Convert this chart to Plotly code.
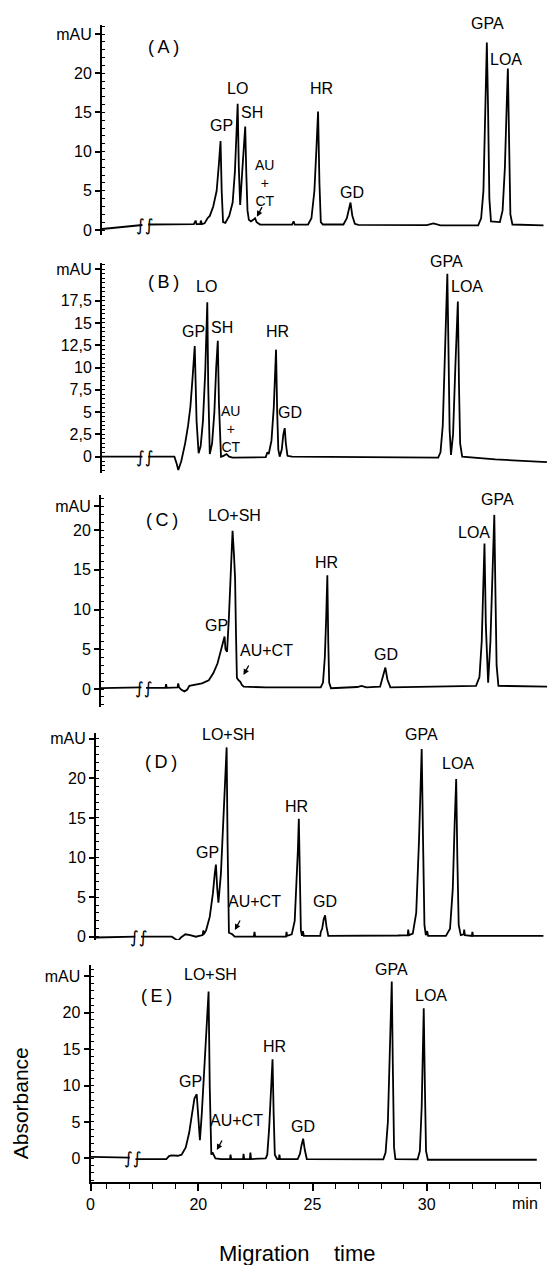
import plotly.graph_objects as go

# ---------------- data ----------------
# migration time (min) and absorbance (mAU); None = axis break gap
a_time = [15.28, 16.2, 17.05, None, 17.3, 19.3, 19.38, 19.42, 19.58, 19.61, 19.65, 19.77, 19.9, 20.0, 20.15, 20.3, 20.4, 20.47,
          20.52, 20.58, 20.68, 20.85, 21.0, 21.1, 21.17, 21.22, 21.27, 21.33, 21.42, 21.5, 21.55, 21.6, 21.65, 21.71, 21.8,
          21.9, 21.98, 22.05, 22.2, 23.6, 23.67, 23.72, 24.3, 24.45, 24.58, 24.67, 24.74, 24.8, 24.86, 24.95, 25.85, 26.0,
          26.1, 26.16, 26.24, 26.35, 26.5, 29.5, 29.79, 30.1, 31.75, 31.88, 31.98, 32.05, 32.1, 32.13, 32.18, 32.24, 32.31,
          32.7, 32.82, 32.92, 33.0, 33.05, 33.1, 33.16, 33.25, 34.61]
a_abs = [0.13, 0.4, 0.64, None, 0.7, 0.75, 1.2, 0.75, 0.75, 1.2, 0.75, 0.85, 1.5, 1.8, 3.0, 5.0, 8.5, 11.35,
         5.0, 1.0, 0.9, 1.8, 3.5, 7.5, 12.5, 16.1, 8.0, 3.2, 7.5, 11.0, 13.2, 7.0, 2.5, 1.3, 1.1,
         1.3, 1.5, 1.0, 0.7, 0.68, 1.1, 0.68, 0.7, 1.5, 5.0, 10.5, 15.1, 6.0, 1.0, 0.7, 0.7, 1.5,
         3.0, 3.5, 1.8, 0.8, 0.65, 0.62, 0.85, 0.6, 0.6, 1.5, 5.0, 13.0, 20.0, 23.9, 16.0, 4.0, 1.1,
         1.0, 2.5, 8.0, 16.0, 20.6, 12.0, 2.0, 0.7, 0.6]

b_time = [15.28, 17.05, None, 17.3, 18.45, 18.55, 18.62, 18.75, 18.92, 19.05, 19.15, 19.25, 19.34, 19.42, 19.51, 19.6,
          19.7, 19.8, 19.86, 19.89, 19.93, 19.97, 20.0, 20.1, 20.2, 20.28, 20.35, 20.4, 20.45, 20.49, 20.6, 20.73, 20.85,
          21.0, 22.45, 22.52, 22.58, 22.7, 22.8, 22.86, 22.9, 22.95, 23.0, 23.06, 23.15, 23.22, 23.28, 23.33, 23.4, 23.6,
          30.0, 30.1, 30.2, 30.3, 30.37, 30.4, 30.45, 30.5, 30.56, 30.65, 30.75, 30.82, 30.86, 30.91, 30.96, 31.05,
          32.5, 34.76]
b_abs = [0.0, 0.0, None, 0.0, 0.0, -0.8, -1.5, -0.5, 1.5, 3.5, 5.6, 9.0, 12.4, 4.0, 0.4, 1.2,
         4.0, 9.5, 15.0, 17.3, 8.0, 1.5, 0.3, 1.5, 5.0, 10.0, 13.0, 6.0, 1.0, 0.0, 0.1, 0.3, 0.0,
         -0.1, -0.05, 0.5, 0.3, 1.8, 5.5, 9.5, 12.0, 5.0, 0.8, 0.0, 0.8, 2.5, 3.2, 1.5, 0.1, 0.0,
         -0.1, 0.5, 3.5, 12.0, 19.0, 20.5, 12.0, 3.0, 0.2, 2.5, 10.0, 16.0, 17.4, 8.0, 1.5, 0.0,
         -0.3, -0.6]

c_time = [15.28, 17.05, None, 17.25, 18.1, 18.13, 18.16, 18.63, 18.66, 18.7, 18.8, 18.93, 19.05, 19.15, 19.4, 19.7,
          20.0, 20.2, 20.38, 20.5, 20.6, 20.69, 20.73, 20.8, 20.88, 20.96, 21.04, 21.1, 21.15, 21.19, 21.23, 21.3,
          21.38, 21.45, 21.53, 22.5, 24.9, 25.0, 25.08, 25.14, 25.19, 25.23, 25.27, 25.35, 26.5, 26.69, 26.9, 27.5,
          27.62, 27.73, 27.82, 27.95, 31.7, 31.85, 31.95, 32.02, 32.07, 32.13, 32.23, 32.33, 32.42, 32.5, 32.55,
          32.6, 32.68, 34.81]
c_abs = [0.1, 0.2, None, 0.15, 0.15, 0.6, 0.15, 0.2, 0.7, 0.2, -0.1, -0.3, -0.1, 0.4, 0.5, 0.7,
         1.1, 2.0, 3.2, 4.5, 5.5, 6.6, 5.0, 4.7, 9.0, 15.0, 19.9, 17.0, 14.0, 7.0, 1.4, 1.1,
         0.9, 0.5, 0.3, 0.2, 0.2, 0.8, 4.0, 9.0, 14.3, 6.0, 0.8, 0.1, 0.25, 0.4, 0.2, 0.3,
         1.4, 2.7, 1.2, 0.2, 0.4, 1.5, 6.0, 13.0, 18.3, 8.0, 0.8, 6.0, 15.0, 21.9, 12.0,
         3.0, 0.4, 0.3]

d_time = [15.28, 17.0, None, 17.25, 18.6, 18.75, 18.88, 19.0, 19.19, 19.4, 19.65, 19.95, 19.98, 20.0, 20.1, 20.26,
          20.4, 20.48, 20.53, 20.59, 20.64, 20.75, 20.87, 20.95, 21.0, 21.04, 21.08, 21.1, 21.18, 21.25, 21.35,
          22.19, 22.22, 22.25, 23.6, 23.62, 23.65, 23.85, 23.98, 24.07, 24.12, 24.16, 24.2, 24.25, 24.3, 24.34,
          24.38, 25.1, 25.12, 25.18, 25.25, 25.31, 25.37, 25.45, 28.5, 28.93, 28.95, 28.98, 29.15, 29.3, 29.42,
          29.5, 29.54, 29.6, 29.66, 29.72, 29.78, 29.82, 30.6, 30.78, 30.9, 30.98, 31.05, 31.1, 31.16, 31.25,
          31.38, 31.4, 31.43, 31.74, 31.76, 31.79, 34.87]
d_abs = [-0.1, 0.0, None, 0.0, 0.0, -0.3, -0.5, -0.1, 0.3, 0.2, 0.0, 0.2, 0.8, 0.3, 0.8, 2.5,
         5.5, 8.0, 9.1, 6.0, 4.3, 8.0, 15.0, 21.0, 23.9, 12.0, 2.0, 0.5, 0.4, 0.3, 0.0,
         0.0, 0.6, 0.0, 0.0, 0.6, 0.1, 0.3, 2.0, 7.0, 11.0, 14.9, 6.0, 0.8, 0.1, 0.7,
         0.1, 0.1, 0.6, 1.0, 2.2, 2.7, 1.3, 0.1, 0.15, 0.2, 0.9, 0.2, 0.4, 3.0, 12.0,
         20.0, 23.7, 12.0, 1.5, 0.2, 0.7, 0.1, 0.1, 1.0, 6.0, 14.0, 19.9, 10.0, 1.5, 0.2,
         0.3, 0.9, 0.2, 0.1, 0.6, 0.1, 0.1]

e_time = [15.28, 17.0, None, 17.25, 18.6, 18.72, 18.82, 19.1, 19.27, 19.45, 19.6, 19.72, 19.83, 19.93, 20.0, 20.07,
          20.15, 20.27, 20.38, 20.45, 20.5, 20.55, 20.57, 20.62, 20.67, 20.75, 21.0, 21.39, 21.41, 21.44, 21.96,
          21.98, 22.01, 22.26, 22.28, 22.31, 22.95, 23.02, 23.1, 23.18, 23.25, 23.3, 23.35, 23.45, 23.53, 23.55,
          23.58, 24.35, 24.45, 24.52, 24.59, 24.66, 24.75, 28.1, 28.2, 28.3, 28.38, 28.44, 28.47, 28.52, 28.57,
          28.63, 29.6, 29.7, 29.78, 29.84, 29.87, 29.92, 29.97, 30.05, 34.82]
e_abs = [0.2, 0.1, None, -0.1, -0.1, 0.3, 0.4, 0.35, 0.5, 1.5, 3.5, 6.0, 8.2, 8.8, 6.0, 2.5,
         6.0, 13.0, 19.0, 22.9, 10.0, 1.5, 0.5, 0.8, 0.5, 0.0, -0.1, -0.1, 0.5, -0.1, -0.1,
         0.6, -0.1, -0.1, 0.8, -0.1, 0.0, 0.5, 4.0, 9.0, 13.6, 6.0, 0.5, -0.1, -0.1, 0.5,
         -0.1, -0.1, 0.6, 1.8, 2.7, 1.2, -0.1, -0.15, 0.8, 5.0, 14.0, 21.0, 24.3, 12.0, 1.5,
         -0.1, -0.15, 1.0, 7.0, 16.0, 20.6, 10.0, 1.0, -0.2, -0.2]

# peak labels: text, time, absorbance
a_lbl_text = ["GPA", "LOA", "LO", "SH", "GP", "HR", "AU<br>+<br>CT", "GD"]
a_lbl_time = [32.16, 32.96, 21.22, 21.86, 20.49, 24.89, 22.40, 26.24]
a_lbl_val = [26.3, 21.8, 18.1, 15.0, 13.3, 18.1, 6.0, 4.8]

b_lbl_text = ["GPA", "LOA", "LO", "SH", "GP", "HR", "GD", "AU<br>+<br>CT"]
b_lbl_time = [30.35, 31.27, 19.87, 20.53, 19.28, 22.95, 23.52, 20.91]
b_lbl_val = [21.9, 19.1, 19.1, 14.5, 14.0, 14.0, 4.9, 3.1]

c_lbl_text = ["LO+SH", "GPA", "LOA", "HR", "GP", "AU+CT", "GD"]
c_lbl_time = [21.11, 32.66, 31.62, 25.14, 20.35, 22.53, 27.74]
c_lbl_val = [21.8, 23.8, 19.7, 15.9, 8.0, 4.8, 4.3]

d_lbl_text = ["LO+SH", "GPA", "LOA", "HR", "GP", "AU+CT", "GD"]
d_lbl_time = [21.09, 29.54, 31.12, 24.08, 20.18, 22.21, 25.29]
d_lbl_val = [25.5, 25.5, 21.9, 16.4, 10.6, 4.5, 4.5]

e_lbl_text = ["LO+SH", "GPA", "LOA", "HR", "GP", "AU+CT", "GD"]
e_lbl_time = [20.55, 28.47, 30.17, 23.33, 19.66, 21.68, 24.6]
e_lbl_val = [25.2, 25.9, 22.3, 15.4, 10.5, 5.2, 4.4]

# panel tags (time, absorbance)
panel_tags = ["(A)", "(B)", "(C)", "(D)", "(E)"]
tag_time = [17.99, 17.99, 17.93, 18.12, 18.17]
tag_val = [23.3, 19.6, 21.3, 22.1, 22.3]

# AU+CT arrow tips (time, absorbance); None = no arrow
arrow_time = [22.06, None, 21.52, 21.36, 20.81]
arrow_val = [1.7, None, 1.76, 0.85, 1.14]

# axis break position (time) and level per panel
break_time = 17.15
break_val = [0.65, 0.0, 0.15, 0.0, 0.0]

# y tick labels
y_ticks_std = [0, 5, 10, 15, 20, 25]
y_text_std = ["0", "5", "10", "15", "20", "mAU"]
y_ticks_b = [0, 2.5, 5, 7.5, 10, 12.5, 15, 17.5, 21]
y_text_b = ["0", "2,5", "5", "7,5", "10", "12,5", "15", "17,5", "mAU"]
y_ticks_c = [0, 5, 10, 15, 20, 23]
x_ticks = [15.28, 20, 25, 30]
x_text = ["0", "20", "25", "30"]

# ---------------- layout (pixel geometry) ----------------
W, H = 548, 1265
PPM = 22.84  # px per minute
T0 = 15.28   # time value at the y axis ("0")
FONT = "Liberation Sans, Arial, sans-serif"

panels = [
    dict(t=a_time, v=a_abs, lt=a_lbl_text, lx=a_lbl_time, ly=a_lbl_val, ax_px=102, right_px=548,
         top_px=25, bot_px=235, zero_px=230, ppu=7.84, tv=y_ticks_std, tt=y_text_std, minor=1),
    dict(t=b_time, v=b_abs, lt=b_lbl_text, lx=b_lbl_time, ly=b_lbl_val, ax_px=102, right_px=548,
         top_px=263, bot_px=473, zero_px=456.7, ppu=8.92, tv=y_ticks_b, tt=y_text_b, minor=0.5),
    dict(t=c_time, v=c_abs, lt=c_lbl_text, lx=c_lbl_time, ly=c_lbl_val, ax_px=101, right_px=548,
         top_px=495, bot_px=707, zero_px=689, ppu=7.95, tv=y_ticks_c, tt=y_text_std, minor=1),
    dict(t=d_time, v=d_abs, lt=d_lbl_text, lx=d_lbl_time, ly=d_lbl_val, ax_px=96, right_px=548,
         top_px=733, bot_px=940, zero_px=936.7, ppu=7.92, tv=y_ticks_std, tt=y_text_std, minor=1),
    dict(t=e_time, v=e_abs, lt=e_lbl_text, lx=e_lbl_time, ly=e_lbl_val, ax_px=90.5, right_px=541,
         top_px=965, bot_px=1181.7, zero_px=1158.3, ppu=7.28, tv=y_ticks_std, tt=y_text_std, minor=1),
]

fig = go.Figure()
annotations = []
layout = {}
for i, p in enumerate(panels):
    n = i + 1
    xname = "xaxis" if n == 1 else f"xaxis{n}"
    yname = "yaxis" if n == 1 else f"yaxis{n}"
    xref = "x" if n == 1 else f"x{n}"
    yref = "y" if n == 1 else f"y{n}"
    fig.add_trace(go.Scatter(x=p["t"], y=p["v"], mode="lines", xaxis=xref, yaxis=yref,
                             line=dict(color="black", width=1.8), connectgaps=False,
                             hoverinfo="skip", showlegend=False))
    xrange = [T0, T0 + (p["right_px"] - p["ax_px"]) / PPM]
    yrange = [(p["zero_px"] - p["bot_px"]) / p["ppu"], (p["zero_px"] - p["top_px"]) / p["ppu"]]
    xdom = [p["ax_px"] / W, p["right_px"] / W]
    ydom = [1 - p["bot_px"] / H, 1 - p["top_px"] / H]

    def to_paper_y(v, yrange=yrange, ydom=ydom):
        return ydom[0] + (v - yrange[0]) / (yrange[1] - yrange[0]) * (ydom[1] - ydom[0])

    last = (n == len(panels))
    xa = dict(domain=xdom, range=xrange, anchor=yref, showgrid=False, zeroline=False, automargin=False)
    if last:
        xa.update(showline=True, linecolor="black", linewidth=2, ticks="outside", ticklen=7, tickwidth=1.5,
                  tickcolor="black", tickmode="array", tickvals=x_ticks, ticktext=x_text,
                  tickfont=dict(family=FONT, size=16, color="black"),
                  minor=dict(tickmode="linear", tick0=16, dtick=1, ticks="outside", ticklen=5,
                             tickwidth=1.2, tickcolor="black", showgrid=False))
    else:
        xa.update(visible=False)
    ya = dict(domain=ydom, range=yrange, anchor=xref, showgrid=False, zeroline=False, automargin=False,
              showline=True, linecolor="black", linewidth=2, ticks="outside", ticklen=5, tickwidth=1.5,
              tickcolor="black", tickmode="array", tickvals=p["tv"], ticktext=p["tt"],
              tickfont=dict(family=FONT, size=16, color="black"),
              minor=dict(tickmode="linear", tick0=0, dtick=p["minor"], ticks="inside", ticklen=3,
                         tickwidth=1, tickcolor="black", showgrid=False))
    layout[xname] = xa
    layout[yname] = ya

    for txt, tx, ty in zip(p["lt"], p["lx"], p["ly"]):
        multi = "<br>" in txt
        annotations.append(dict(x=tx, y=to_paper_y(ty), xref=xref, yref="paper", text=txt, showarrow=False,
                                xanchor="center", yanchor="middle",
                                font=dict(family=FONT, size=14 if multi else 16, color="black")))
    annotations.append(dict(x=tag_time[i], y=to_paper_y(tag_val[i]), xref=xref, yref="paper",
                            text=panel_tags[i].replace("(", "(\u2009").replace(")", "\u2009)"),
                            showarrow=False, xanchor="center", yanchor="middle",
                            font=dict(family=FONT, size=18, color="black")))
    if arrow_time[i] is not None:
        annotations.append(dict(x=arrow_time[i], y=to_paper_y(arrow_val[i]), xref=xref, yref="paper", text="",
                                showarrow=True, arrowhead=2, arrowsize=0.9, arrowwidth=1.3,
                                arrowcolor="black", ax=6, ay=-11, standoff=0))
    annotations.append(dict(x=break_time, y=to_paper_y(break_val[i]), xref=xref, yref="paper",
                            text="\u222b\u222b", showarrow=False, xanchor="center", yanchor="middle",
                            font=dict(family="DejaVu Sans", size=17, color="black")))

annotations.append(dict(x=20.3 / W, y=1 - 1103 / H, xref="paper", yref="paper", text="Absorbance",
                        textangle=-90, showarrow=False, xanchor="center", yanchor="middle",
                        font=dict(family=FONT, size=21, color="black")))
annotations.append(dict(x=297 / W, y=1 - 1253 / H, xref="paper", yref="paper",
                        text="Migration\u00a0\u00a0\u00a0\u00a0time",
                        showarrow=False, xanchor="center", yanchor="middle",
                        font=dict(family=FONT, size=22, color="black")))
annotations.append(dict(x=525 / W, y=1 - 1203 / H, xref="paper", yref="paper", text="min",
                        showarrow=False, xanchor="center", yanchor="middle",
                        font=dict(family=FONT, size=16, color="black")))

fig.update_layout(width=W, height=H, margin=dict(l=0, r=0, t=0, b=0, pad=0), template="none",
                  paper_bgcolor="white", plot_bgcolor="white", showlegend=False,
                  annotations=annotations, **layout)

fig.write_html("out.html", config={"displayModeBar": False},
               post_script="document.body.style.margin='0px';")
